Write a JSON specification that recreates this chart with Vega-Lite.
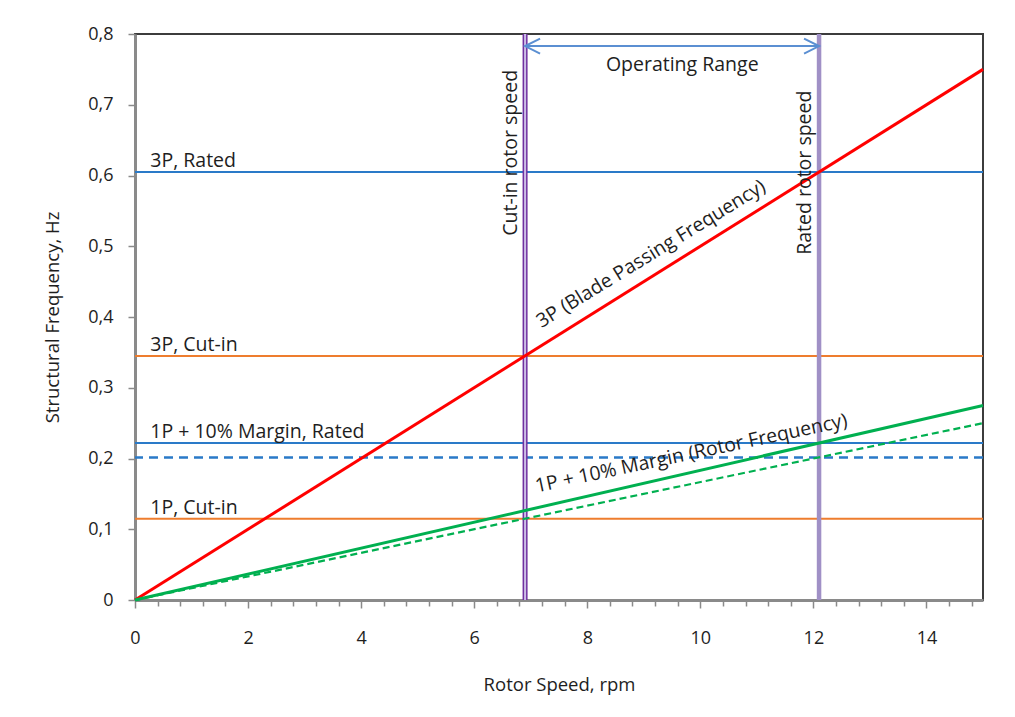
{
  "$schema": "https://vega.github.io/schema/vega-lite/v6.json",
  "width": 848,
  "height": 566,
  "autosize": {"type": "none"},
  "padding": {"left": 135, "top": 34, "right": 32, "bottom": 117},
  "background": "white",
  "config": {
    "view": {"stroke": "#3c3c3c", "strokeWidth": 2},
    "font": "Open Sans",
    "axis": {
      "grid": false,
      "domainColor": "#8a8a8a",
      "domainWidth": 3,
      "tickColor": "#8a8a8a",
      "tickWidth": 1.5,
      "labelFont": "Open Sans",
      "labelFontSize": 18,
      "labelColor": "#1e1e1e",
      "titleFont": "Open Sans",
      "titleFontSize": 18.5,
      "titleFontWeight": "normal",
      "titleColor": "#1e1e1e",
      "labelOverlap": false,
      "labelBound": false,
      "labelFlush": false
    },
    "axisX": {"labelOverlap": false, "labelPadding": 21, "titlePadding": 28},
    "axisY": {"labelPadding": 15, "titlePadding": 25, "tickSize": 7},
    "text": {"font": "Open Sans", "fontSize": 19.5, "color": "#1e1e1e"}
  },
  "datasets": {
    "levels": [
      {"label": "3P, Rated", "freq": 0.605, "condition": "Rated", "line": "solid"},
      {"label": "3P, Cut-in", "freq": 0.345, "condition": "Cut-in", "line": "solid"},
      {"label": "1P + 10% Margin, Rated", "freq": 0.222, "condition": "Rated", "line": "solid"},
      {"label": "1P, Rated", "freq": 0.2015, "condition": "Rated", "line": "dashed"},
      {"label": "1P, Cut-in", "freq": 0.115, "condition": "Cut-in", "line": "solid"}
    ],
    "curves": [
      {"curve": "3P (Blade Passing Frequency)", "rpm": 0, "freq": 0},
      {"curve": "3P (Blade Passing Frequency)", "rpm": 15, "freq": 0.75},
      {"curve": "1P + 10% Margin (Rotor Frequency)", "rpm": 0, "freq": 0},
      {"curve": "1P + 10% Margin (Rotor Frequency)", "rpm": 15, "freq": 0.275},
      {"curve": "1P (Rotor Frequency)", "rpm": 0, "freq": 0},
      {"curve": "1P (Rotor Frequency)", "rpm": 15, "freq": 0.25}
    ],
    "speeds": [
      {"label": "Cut-in rotor speed", "rpm": 6.9},
      {"label": "Rated rotor speed", "rpm": 12.1}
    ],
    "range": [
      {"label": "Operating Range", "from": 6.9, "to": 12.1, "level": 0.783}
    ]
  },
  "layer": [
    {
      "data": {"name": "levels"},
      "transform": [{"filter": "datum.condition == 'Cut-in'"}],
      "mark": {"type": "rule", "color": "#ee7d2e", "strokeWidth": 2},
      "encoding": {
        "y": {
          "field": "freq", "type": "quantitative",
          "scale": {"domain": [0, 0.8], "nice": false, "zero": true},
          "axis": {
            "title": "Structural Frequency, Hz",
            "values": [0, 0.1, 0.2, 0.3, 0.4, 0.5, 0.6, 0.7, 0.8],
            "tickCount": 100,
            "labelExpr": "datum.value == 0 ? '0' : replace(format(datum.value, '.1f'), '.', ',')",
            "tickSize": 7,
            "labelPadding": 15,
            "titlePadding": 25
          }
        }
      }
    },
    {
      "data": {"name": "levels"},
      "transform": [{"filter": "datum.condition == 'Rated' && datum.line == 'solid'"}],
      "mark": {"type": "rule", "color": "#2a7ac8", "strokeWidth": 2},
      "encoding": {"y": {"field": "freq", "type": "quantitative"}}
    },
    {
      "data": {"name": "levels"},
      "transform": [{"filter": "datum.line == 'dashed'"}],
      "mark": {"type": "rule", "color": "#2a7ac8", "strokeWidth": 2.5, "strokeDash": [9, 6]},
      "encoding": {"y": {"field": "freq", "type": "quantitative"}}
    },
    {
      "data": {"name": "speeds"},
      "transform": [{"filter": "datum.label == 'Cut-in rotor speed'"}],
      "mark": {"type": "rule", "color": "#7030a0", "strokeWidth": 5},
      "encoding": {
        "x": {
          "field": "rpm", "type": "quantitative",
          "scale": {"domain": [0, 15], "nice": false},
          "axis": {
            "title": "Rotor Speed, rpm",
            "values": [0, 0.4, 0.8, 1.2, 1.6, 2, 2.4, 2.8, 3.2, 3.6, 4, 4.4, 4.8, 5.2, 5.6, 6, 6.4, 6.8, 7.2, 7.6, 8, 8.4, 8.8, 9.2, 9.6, 10, 10.4, 10.8, 11.2, 11.6, 12, 12.4, 12.8, 13.2, 13.6, 14, 14.4, 14.8],
            "tickCount": 100,
            "labelExpr": "indexof([0, 2, 4, 6, 8, 10, 12, 14], datum.value) >= 0 ? format(datum.value, 'd') : ''",
            "tickSize": {"condition": {"test": "indexof([0, 2, 4, 6, 8, 10, 12, 14], datum.value) >= 0", "value": 8}, "value": 6},
            "labelOverlap": false,
            "labelFlush": false,
            "labelPadding": 21,
            "titlePadding": 28
          }
        }
      }
    },
    {
      "data": {"name": "speeds"},
      "transform": [{"filter": "datum.label == 'Cut-in rotor speed'"}],
      "mark": {"type": "rule", "color": "#cbbde6", "strokeWidth": 2},
      "encoding": {"x": {"field": "rpm", "type": "quantitative"}}
    },
    {
      "data": {"name": "speeds"},
      "transform": [{"filter": "datum.label == 'Rated rotor speed'"}],
      "mark": {"type": "rule", "color": "#a090c6", "strokeWidth": 4.5},
      "encoding": {"x": {"field": "rpm", "type": "quantitative"}}
    },
    {
      "data": {"name": "curves"},
      "transform": [{"filter": "datum.curve == '3P (Blade Passing Frequency)'"}],
      "mark": {"type": "line", "color": "#ff0000", "strokeWidth": 3},
      "encoding": {
        "x": {"field": "rpm", "type": "quantitative"},
        "y": {"field": "freq", "type": "quantitative"}
      }
    },
    {
      "data": {"name": "curves"},
      "transform": [{"filter": "datum.curve == '1P + 10% Margin (Rotor Frequency)'"}],
      "mark": {"type": "line", "color": "#00b050", "strokeWidth": 3},
      "encoding": {
        "x": {"field": "rpm", "type": "quantitative"},
        "y": {"field": "freq", "type": "quantitative"}
      }
    },
    {
      "data": {"name": "curves"},
      "transform": [{"filter": "datum.curve == '1P (Rotor Frequency)'"}],
      "mark": {"type": "line", "color": "#00b050", "strokeWidth": 2.2, "strokeDash": [7, 4]},
      "encoding": {
        "x": {"field": "rpm", "type": "quantitative"},
        "y": {"field": "freq", "type": "quantitative"}
      }
    },
    {
      "data": {"name": "range"},
      "mark": {"type": "rule", "color": "#5b8fd2", "strokeWidth": 2},
      "encoding": {
        "x": {"field": "from", "type": "quantitative"},
        "x2": {"field": "to"},
        "y": {"field": "level", "type": "quantitative"}
      }
    },
    {
      "data": {"name": "range"},
      "mark": {"type": "point", "shape": "M 2 -1 L 0 0 L 2 1", "size": 225, "filled": false, "color": "#5b8fd2", "strokeWidth": 2, "opacity": 1},
      "encoding": {
        "x": {"field": "from", "type": "quantitative"},
        "y": {"field": "level", "type": "quantitative"}
      }
    },
    {
      "data": {"name": "range"},
      "mark": {"type": "point", "shape": "M -2 -1 L 0 0 L -2 1", "size": 225, "filled": false, "color": "#5b8fd2", "strokeWidth": 2, "opacity": 1},
      "encoding": {
        "x": {"field": "to", "type": "quantitative"},
        "y": {"field": "level", "type": "quantitative"}
      }
    },
    {
      "data": {"name": "range"},
      "mark": {"type": "text", "align": "center", "baseline": "middle"},
      "encoding": {
        "x": {"datum": 9.68, "type": "quantitative"},
        "y": {"datum": 0.756, "type": "quantitative"},
        "text": {"field": "label"}
      }
    },
    {
      "data": {"name": "levels"},
      "transform": [{"filter": "datum.line == 'solid'"}],
      "mark": {"type": "text", "align": "left", "baseline": "alphabetic", "dy": -5},
      "encoding": {
        "x": {"datum": 0.27, "type": "quantitative"},
        "y": {"field": "freq", "type": "quantitative"},
        "text": {"field": "label"}
      }
    },
    {
      "data": {"name": "speeds"},
      "transform": [{"filter": "datum.label == 'Cut-in rotor speed'"}],
      "mark": {"type": "text", "angle": 270, "align": "center", "baseline": "bottom", "dy": -4},
      "encoding": {
        "x": {"field": "rpm", "type": "quantitative"},
        "y": {"datum": 0.632, "type": "quantitative"},
        "text": {"field": "label"}
      }
    },
    {
      "data": {"name": "speeds"},
      "transform": [{"filter": "datum.label == 'Rated rotor speed'"}],
      "mark": {"type": "text", "angle": 270, "align": "center", "baseline": "bottom", "dy": -4},
      "encoding": {
        "x": {"field": "rpm", "type": "quantitative"},
        "y": {"datum": 0.604, "type": "quantitative"},
        "text": {"field": "label"}
      }
    },
    {
      "data": {"name": "curves"},
      "transform": [{"filter": "datum.curve == '3P (Blade Passing Frequency)' && datum.rpm == 15"}],
      "mark": {"type": "text", "angle": 328.5, "align": "center", "baseline": "middle"},
      "encoding": {
        "x": {"datum": 9.13, "type": "quantitative"},
        "y": {"datum": 0.489, "type": "quantitative"},
        "text": {"field": "curve"}
      }
    },
    {
      "data": {"name": "curves"},
      "transform": [{"filter": "datum.curve == '1P + 10% Margin (Rotor Frequency)' && datum.rpm == 15"}],
      "mark": {"type": "text", "angle": 348, "align": "center", "baseline": "middle"},
      "encoding": {
        "x": {"datum": 9.84, "type": "quantitative"},
        "y": {"datum": 0.207, "type": "quantitative"},
        "text": {"field": "curve"}
      }
    }
  ]
}
